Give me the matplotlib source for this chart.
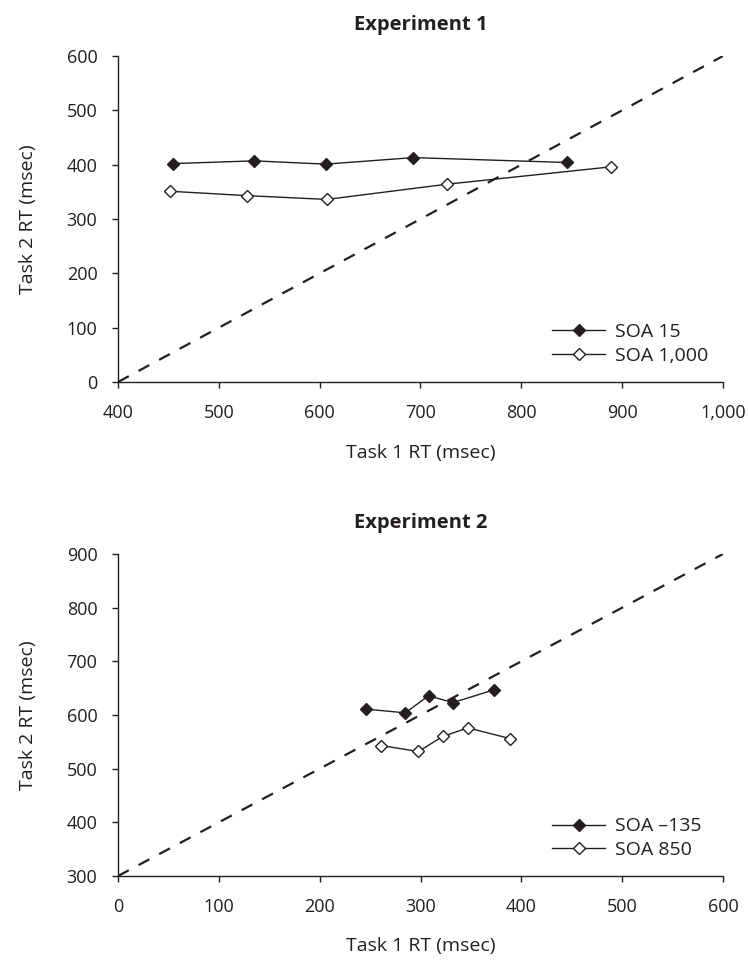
import matplotlib
matplotlib.use('Agg')
import matplotlib.pyplot as plt
from matplotlib.ticker import FuncFormatter

plt.rcParams['font.family'] = ['Open Sans', 'DejaVu Sans']
plt.rcParams['font.size'] = 13

INK = '#231f20'

# Experiment 1
exp1_soa15_x = [455, 535, 606, 693, 845]
exp1_soa15_y = [402, 407, 401, 413, 404]
exp1_soa1000_x = [452, 528, 607, 726, 889]
exp1_soa1000_y = [351, 343, 336, 364, 396]
exp1_diag_x = [400, 1000]
exp1_diag_y = [0, 600]

# Experiment 2
exp2_soa135_x = [246, 285, 308, 332, 373]
exp2_soa135_y = [611, 604, 636, 623, 647]
exp2_soa850_x = [261, 298, 322, 347, 389]
exp2_soa850_y = [543, 532, 560, 576, 556]
exp2_diag_x = [0, 600]
exp2_diag_y = [300, 900]

#------------------------------------------------------------------------------#

def style_axes(ax, xlim, ylim, title):
    ax.set_xlim(xlim)
    ax.set_ylim(ylim)
    ax.set_xticks(range(xlim[0], xlim[1] + 1, 100))
    ax.set_yticks(range(ylim[0], ylim[1] + 1, 100))
    ax.xaxis.set_major_formatter(FuncFormatter(lambda v, p: f'{v:,.0f}'))
    for side in ['top', 'right']:
        ax.spines[side].set_visible(False)
    for side in ['left', 'bottom']:
        ax.spines[side].set_color(INK)
        ax.spines[side].set_linewidth(1.0)
    ax.tick_params(axis='both', direction='out', length=4.3, width=1.0,
                   color=INK, labelcolor=INK, labelsize=13)
    ax.tick_params(axis='x', pad=11.5)
    ax.tick_params(axis='y', pad=10.5)
    ax.set_xlabel('Task 1 RT (msec)', color=INK, fontsize=14)
    ax.set_ylabel('Task 2 RT (msec)', color=INK, fontsize=14)
    ax.xaxis.set_label_coords(0.5, -0.19)
    ax.yaxis.set_label_coords(-0.134, 0.5)
    ax.set_title(title, fontweight='bold', color=INK, fontsize=14.5, pad=19)


def plot_series(ax, x, y, filled, label):
    ax.plot(x, y, color=INK, linewidth=1.0, marker='D', markersize=6,
            markerfacecolor=INK if filled else 'white',
            markeredgecolor=INK, markeredgewidth=1.0, label=label,
            clip_on=False, zorder=3)


def add_legend(ax):
    ax.legend(loc='lower left', bbox_to_anchor=(0.717, 0.052), frameon=False,
              borderpad=0, borderaxespad=0, handlelength=2.75,
              handletextpad=0.5, labelspacing=0.3, fontsize=14,
              labelcolor=INK)

#------------------------------------------------------------------------------#

fig = plt.figure(figsize=(7.48, 9.6), dpi=100)

ax1 = fig.add_axes([118 / 748, (960 - 382) / 960, 605 / 748, 326 / 960])
ax1.plot(exp1_diag_x, exp1_diag_y, color=INK, linewidth=1.6,
         linestyle=(0, (5.5, 5)), zorder=2)
plot_series(ax1, exp1_soa15_x, exp1_soa15_y, True, 'SOA 15')
plot_series(ax1, exp1_soa1000_x, exp1_soa1000_y, False, 'SOA 1,000')
style_axes(ax1, (400, 1000), (0, 600), 'Experiment 1')
add_legend(ax1)

ax2 = fig.add_axes([118 / 748, (960 - 876) / 960, 605 / 748, 322 / 960])
ax2.plot(exp2_diag_x, exp2_diag_y, color=INK, linewidth=1.6,
         linestyle=(0, (5.5, 5)), zorder=2)
plot_series(ax2, exp2_soa135_x, exp2_soa135_y, True, 'SOA \u2013135')
plot_series(ax2, exp2_soa850_x, exp2_soa850_y, False, 'SOA 850')
style_axes(ax2, (0, 600), (300, 900), 'Experiment 2')
add_legend(ax2)

fig.savefig('out.png', dpi=100)
